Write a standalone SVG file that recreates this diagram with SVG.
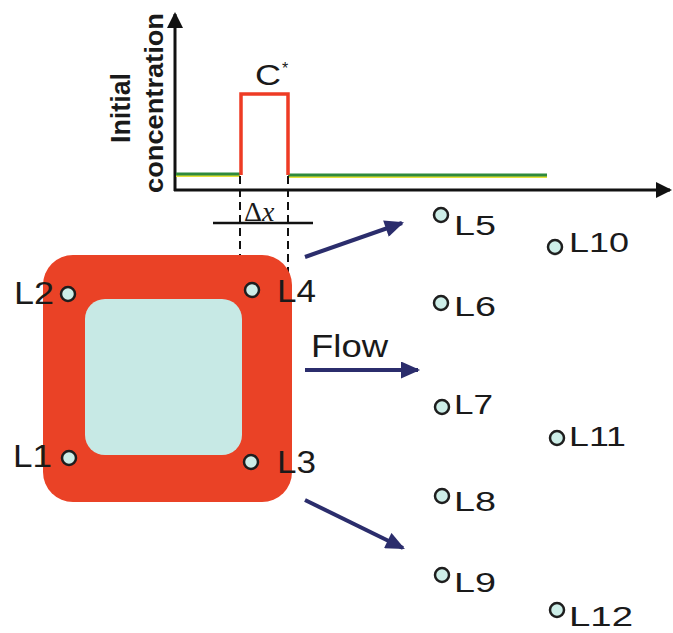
<svg xmlns="http://www.w3.org/2000/svg" width="673" height="633" viewBox="0 0 673 633">
  <defs>
    <marker id="navyHead" viewBox="0 0 18 16" refX="16" refY="8" markerWidth="20" markerHeight="17" markerUnits="userSpaceOnUse" orient="auto">
      <path d="M0,0 L18,8 L0,16 z" fill="#2b2d6c"/>
    </marker>
    <marker id="axisHead" viewBox="0 0 16 16" refX="14" refY="8" markerWidth="16" markerHeight="16" markerUnits="userSpaceOnUse" orient="auto">
      <path d="M0,0 L16,8 L0,16 z" fill="#111"/>
    </marker>
    <style>
      .lbl { font-family: "Liberation Sans", Arial, sans-serif; fill: #1a1a1a; }
      .lblL { font-size: 31px; }
      .lblR { font-size: 28px; }
      .pt { fill: #cdeee8; stroke: #1e1e1e; stroke-width: 2.5; }
      .axis { stroke: #111; stroke-width: 3; fill: none; }
      .dash { stroke: #111; stroke-width: 2; stroke-dasharray: 8 5; fill: none; }
      .flow { stroke: #2b2d6c; stroke-width: 4; fill: none; marker-end: url(#navyHead); }
      .ylab { font-family: "Liberation Sans", Arial, sans-serif; font-weight: bold; fill: #1a1a1a; }
    </style>
  </defs>
  <rect width="673" height="633" fill="#ffffff"/>

  <g id="chart">
    <line class="axis" x1="175" y1="191" x2="175" y2="14" marker-end="url(#axisHead)"/>
    <line class="axis" x1="174" y1="190" x2="670" y2="190" marker-end="url(#axisHead)"/>
    <polyline points="176,176 240,176" stroke="#e6e23a" stroke-width="2" fill="none"/>
    <polyline points="288,177 547,177" stroke="#e6e23a" stroke-width="2" fill="none"/>
    <line x1="176" y1="174" x2="240" y2="174" stroke="#2f8a3c" stroke-width="3"/>
    <line x1="288" y1="175" x2="547" y2="175" stroke="#2f8a3c" stroke-width="3"/>
    <path d="M241,175 V94 H288 V175" stroke="#ee3b24" stroke-width="3.5" fill="none"/>
    <text class="ylab" font-size="27" transform="translate(130,108) rotate(-90)" text-anchor="middle" textLength="70" lengthAdjust="spacingAndGlyphs">Initial</text>
    <text class="ylab" font-size="25" transform="translate(163,103) rotate(-90)" text-anchor="middle" textLength="180" lengthAdjust="spacingAndGlyphs">concentration</text>
    <text class="lbl" x="255" y="85" font-size="29" textLength="26" lengthAdjust="spacingAndGlyphs">C</text>
    <text class="lbl" x="282" y="74" font-size="16">*</text>
    <line class="dash" x1="240" y1="176" x2="240" y2="375"/>
    <line class="dash" x1="288" y1="176" x2="288" y2="375"/>
    <line x1="213" y1="223" x2="313" y2="223" stroke="#111" stroke-width="2.5"/>
    <text x="244" y="221" font-family="'Liberation Serif', 'Times New Roman', serif" font-size="28" fill="#1a1a1a">Δ<tspan font-style="italic">x</tspan></text>
  </g>

  <g id="square">
    <rect x="43" y="255" width="249" height="247" rx="30" ry="30" fill="#ea4226"/>
    <rect x="85" y="299" width="157" height="156" rx="20" ry="20" fill="#c7e9e5"/>
  </g>

  <g id="L1"><circle class="pt" cx="69" cy="458" r="7"/><text class="lbl lblL" x="13" y="467" textLength="39" lengthAdjust="spacingAndGlyphs">L1</text></g>
  <g id="L2"><circle class="pt" cx="68" cy="294" r="7"/><text class="lbl lblL" x="14" y="304" textLength="40" lengthAdjust="spacingAndGlyphs">L2</text></g>
  <g id="L3"><circle class="pt" cx="251" cy="462" r="7"/><text class="lbl lblL" x="277" y="473" textLength="39" lengthAdjust="spacingAndGlyphs">L3</text></g>
  <g id="L4"><circle class="pt" cx="252" cy="290" r="7"/><text class="lbl lblL" x="277" y="302" textLength="39" lengthAdjust="spacingAndGlyphs">L4</text></g>

  <g id="L5"><circle class="pt" cx="441" cy="215" r="7"/><text class="lbl lblR" x="454" y="235" textLength="42" lengthAdjust="spacingAndGlyphs">L5</text></g>
  <g id="L6"><circle class="pt" cx="441" cy="303" r="7"/><text class="lbl lblR" x="454" y="316" textLength="42" lengthAdjust="spacingAndGlyphs">L6</text></g>
  <g id="L7"><circle class="pt" cx="442" cy="407" r="7"/><text class="lbl lblR" x="454" y="414" textLength="39" lengthAdjust="spacingAndGlyphs">L7</text></g>
  <g id="L8"><circle class="pt" cx="442" cy="496" r="7"/><text class="lbl lblR" x="454" y="511" textLength="42" lengthAdjust="spacingAndGlyphs">L8</text></g>
  <g id="L9"><circle class="pt" cx="442" cy="575" r="7"/><text class="lbl lblR" x="454" y="592" textLength="42" lengthAdjust="spacingAndGlyphs">L9</text></g>
  <g id="L10"><circle class="pt" cx="555" cy="247" r="7"/><text class="lbl lblR" x="569" y="252" textLength="60" lengthAdjust="spacingAndGlyphs">L10</text></g>
  <g id="L11"><circle class="pt" cx="557" cy="438" r="7"/><text class="lbl lblR" x="569" y="446" textLength="57" lengthAdjust="spacingAndGlyphs">L11</text></g>
  <g id="L12"><circle class="pt" cx="557" cy="610" r="7"/><text class="lbl lblR" x="569" y="626" textLength="64" lengthAdjust="spacingAndGlyphs">L12</text></g>

  <g id="connectors">
    <line class="flow" x1="305" y1="257" x2="402" y2="223"/>
    <line class="flow" x1="305" y1="370" x2="418" y2="370"/>
    <line class="flow" x1="305" y1="500" x2="403" y2="548"/>
    <text class="lbl" x="311" y="357" font-size="31" textLength="77" lengthAdjust="spacingAndGlyphs">Flow</text>
  </g>
</svg>
